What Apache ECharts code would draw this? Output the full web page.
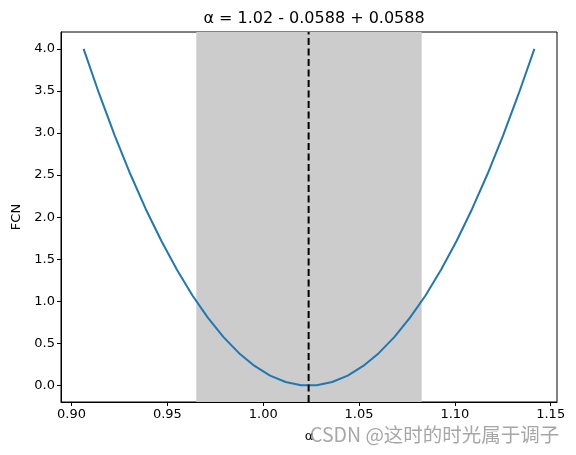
<!DOCTYPE html>
<html>
<head>
<meta charset="utf-8">
<script src="https://cdn.jsdelivr.net/npm/echarts@6/dist/echarts.min.js"></script>
<style>
  html, body { margin: 0; padding: 0; background: #fff; }
  #chart { width: 576px; height: 455px; }
</style>
</head>
<body>
<div id="chart"></div>
<script>
// FCN 剖面曲线（30 个扫描点），灰带 = ±1σ，虚线 = 最佳值

const alphaValues = [
  0.9063, 0.9144, 0.9225, 0.9306, 0.9387, 0.9469, 0.9550, 0.9631, 0.9712, 0.9793,
  0.9874, 0.9955, 1.0036, 1.0117, 1.0198, 1.0279, 1.0360, 1.0441, 1.0522, 1.0603,
  1.0684, 1.0765, 1.0847, 1.0928, 1.1009, 1.1090, 1.1171, 1.1252, 1.1333, 1.1415,
]
const fcnValues = [
  4.000, 3.467, 2.973, 2.516, 2.098, 1.717, 1.375, 1.070, 0.804, 0.576,
  0.385, 0.233, 0.119, 0.043, 0.005, 0.005, 0.043, 0.119, 0.233, 0.385,
  0.576, 0.804, 1.070, 1.375, 1.717, 2.098, 2.516, 2.973, 3.467, 4.000,
]
const bestAlpha = 1.0237
const errLow = 0.9651
const errHigh = 1.0827
const xTicks = [0.9, 0.95, 1.0, 1.05, 1.1, 1.15]
const yTicks = [0, 0.5, 1, 1.5, 2, 2.5, 3, 3.5, 4]
const xMin = 0.8945
const xMax = 1.1533
const yMin = -0.195
const yMax = 4.2
const titleText = 'α = 1.02 - 0.0588 + 0.0588'

const font = 'DejaVu Sans'
const chart = echarts.init(document.getElementById('chart'))

chart.setOption({
  animation: false,
  textStyle: { fontFamily: font },
  title: {
    text: titleText,
    left: 309,
    top: 6,
    textAlign: 'center',
    textStyle: { fontFamily: font, fontSize: 16, fontWeight: 'normal', color: '#000' },
  },
  grid: {
    left: 61, right: 19, top: 32, bottom: 53,
    show: true, borderColor: '#000', borderWidth: 1,
  },
  xAxis: {
    type: 'value',
    min: xMin,
    max: xMax,
    name: 'α',
    nameLocation: 'middle',
    nameGap: 28,
    nameTextStyle: { fontFamily: font, fontSize: 13, color: '#000' },
    axisLine: { onZero: false, lineStyle: { color: '#000' } },
    axisTick: { customValues: xTicks, length: 4, lineStyle: { color: '#000' } },
    axisLabel: {
      customValues: xTicks,
      formatter: (v) => v.toFixed(2),
      fontFamily: font, fontSize: 13, color: '#000', margin: 6,
    },
    splitLine: { show: false },
  },
  yAxis: {
    type: 'value',
    min: yMin,
    max: yMax,
    name: 'FCN',
    nameLocation: 'middle',
    nameGap: 38,
    nameTextStyle: { fontFamily: font, fontSize: 13, color: '#000' },
    axisLine: { show: true, onZero: false, lineStyle: { color: '#000' } },
    axisTick: { show: true, customValues: yTicks, length: 4, lineStyle: { color: '#000' } },
    axisLabel: {
      customValues: yTicks,
      formatter: (v) => v.toFixed(1),
      fontFamily: font, fontSize: 13, color: '#000', margin: 6,
    },
    splitLine: { show: false },
  },
  series: [
    {
      type: 'line',
      data: alphaValues.map((a, i) => [a, fcnValues[i]]),
      symbol: 'none',
      lineStyle: { color: '#1f77b4', width: 2 },
      z: 3,
      markArea: {
        silent: true,
        itemStyle: { color: '#cccccc' },
        data: [[{ xAxis: errLow }, { xAxis: errHigh }]],
      },
    },
    {
      // 最佳值竖虚线
      type: 'line',
      data: [[bestAlpha, yMin], [bestAlpha, yMax]],
      symbol: 'none',
      silent: true,
      z: 4,
      lineStyle: { color: '#000', type: [7, 3.5], width: 2 },
    },
  ],
  graphic: [
    {
      type: 'text',
      left: 310,
      top: 425,
      z: 100,
      style: {
        text: 'CSDN @这时的时光属于调子',
        font: '19.5px "Noto Sans CJK SC", sans-serif',
        fill: 'rgba(150,150,150,0.85)',
      },
    },
  ],
})
</script>
</body>
</html>
